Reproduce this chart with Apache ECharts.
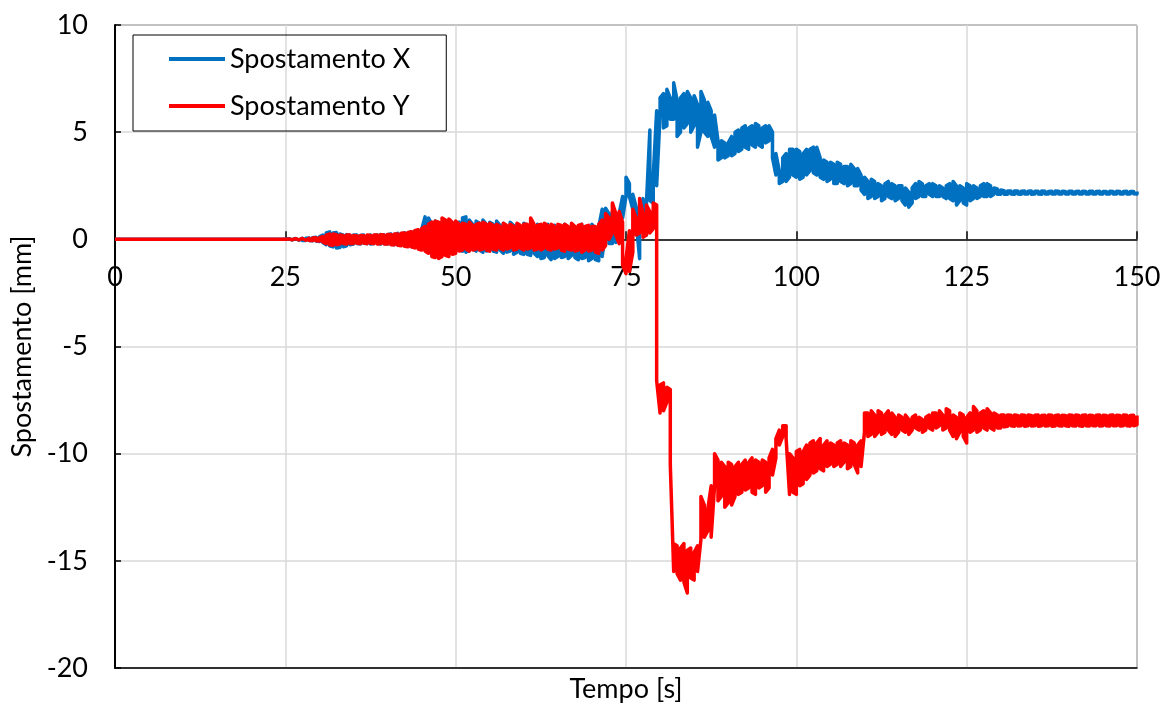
<!DOCTYPE html>
<html>
<head>
<meta charset="utf-8">
<script src="https://cdn.jsdelivr.net/npm/echarts@6/dist/echarts.min.js"></script>
<style>
html,body{margin:0;padding:0;background:#fff;}
#chart{width:1163px;height:707px;}
</style>
</head>
<body>
<div id="chart"></div>
<script>
// Leading flat samples, then a regular 0.5 s sampling grid from 25.5 s to 150 s.
// For each grid sample the signal is dense noise, so the upper and lower
// envelope of the trace are given.
const leadTimes = [0, 25];
const leadX = [0, 0];
const leadY = [0, 0];
const gridStart = 25.5;
const gridStep = 0.5;

// Spostamento X [mm] – upper envelope
const xHi = [
  0.03,0.03,0.04,0.04,0.05,0.05,0.06,0.08,0.1,0.12,
  0.2,0.3,0.35,0.3,0.32,0.25,0.2,0.22,0.18,0.2,
  0.2,0.18,0.2,0.15,0.2,0.18,0.2,0.22,0.2,0.22,
  0.25,0.22,0.28,0.25,0.3,0.3,0.35,0.38,0.4,0.45,
  1.05,1.0,0.7,0.85,0.75,0.8,0.7,0.85,0.75,0.7,
  0.8,1.0,1.05,0.9,0.7,0.85,0.75,0.9,0.7,0.8,
  0.7,0.85,0.65,0.75,0.6,0.8,0.65,0.7,0.6,0.75,
  0.65,0.75,0.6,0.7,0.55,0.65,0.7,0.6,0.65,0.55,
  0.6,0.7,0.55,0.65,0.5,0.6,0.7,0.55,0.6,0.7,
  0.5,0.6,1.4,1.45,1.2,1.3,0.9,1.2,2.0,2.9,
  2.6,2.1,1.5,1.0,1.9,1.7,5.1,3.0,6.0,6.6,
  6.8,7.0,6.6,7.3,6.5,6.6,6.8,6.9,6.6,6.7,
  6.3,6.9,6.5,6.4,6.0,5.8,4.6,4.6,4.5,4.5,
  4.8,5.0,5.1,5.2,5.3,5.2,5.3,5.4,5.3,5.2,
  5.3,5.3,5.0,4.0,3.2,3.8,4.0,4.2,4.2,4.2,
  4.1,4.0,4.2,4.2,4.3,4.3,3.8,3.7,3.6,3.6,
  3.5,3.6,3.5,3.4,3.4,3.5,3.3,3.3,3.0,2.9,
  2.7,2.8,2.7,2.6,2.5,2.6,2.7,2.6,2.5,2.5,
  2.5,2.4,2.2,2.4,2.6,2.7,2.6,2.5,2.6,2.6,
  2.5,2.5,2.4,2.5,2.6,2.7,2.5,2.5,2.4,2.6,
  2.5,2.5,2.4,2.5,2.6,2.6,2.5,2.4,2.35,2.3,
  2.27,2.26,2.25,2.25,2.26,2.24,2.25,2.24,2.25,2.24,
  2.24,2.25,2.24,2.23,2.24,2.25,2.24,2.24,2.23,2.24,
  2.24,2.23,2.24,2.24,2.23,2.24,2.24,2.23,2.24,2.23,
  2.23,2.24,2.23,2.24,2.23,2.23,2.24,2.23,2.23,2.23
];
// Spostamento X [mm] – lower envelope
const xLo = [
  -0.03,-0.03,-0.04,-0.04,-0.05,-0.05,-0.06,-0.07,-0.08,-0.1,
  -0.15,-0.25,-0.3,-0.35,-0.4,-0.38,-0.35,-0.3,-0.25,-0.22,
  -0.2,-0.22,-0.18,-0.2,-0.22,-0.2,-0.18,-0.22,-0.2,-0.22,
  -0.22,-0.25,-0.25,-0.28,-0.3,-0.32,-0.35,-0.35,-0.38,-0.4,
  -0.3,-0.2,-0.35,-0.3,-0.4,-0.35,-0.4,-0.35,-0.4,-0.45,
  -0.5,-0.55,-0.6,-0.5,-0.45,-0.55,-0.5,-0.6,-0.55,-0.5,
  -0.55,-0.6,-0.5,-0.65,-0.6,-0.55,-0.7,-0.6,-0.65,-0.7,
  -0.7,-0.75,-0.65,-0.8,-0.9,-0.85,-0.75,-0.95,-0.9,-0.8,
  -0.85,-0.8,-0.9,-0.75,-0.85,-0.95,-0.9,-0.85,-1.0,-0.9,
  -0.95,-1.0,-0.8,0.3,-0.2,-0.2,-0.15,0.2,1.0,2.0,
  2.0,1.4,0.8,-0.9,0.6,0.2,1.8,1.7,2.5,5.8,
  5.2,5.3,5.6,5.6,4.8,5.0,5.2,5.4,5.0,5.3,
  4.3,5.0,5.0,4.8,4.8,4.3,3.7,3.8,3.8,3.9,
  3.9,4.0,4.1,4.2,4.3,4.2,4.4,4.3,4.4,4.3,
  4.5,4.6,3.8,3.0,2.6,2.7,2.7,2.9,3.0,2.9,
  2.8,2.9,3.0,3.2,3.1,3.0,2.9,2.8,2.7,2.8,
  2.6,2.6,2.7,2.6,2.5,2.6,2.5,2.5,2.3,2.1,
  1.9,2.0,1.9,2.0,1.8,1.9,2.0,1.9,1.8,1.9,
  1.8,1.6,1.5,1.7,1.9,2.0,2.0,2.0,2.1,2.0,
  2.0,2.0,2.0,1.9,1.9,1.8,1.6,1.8,1.7,1.6,
  1.8,1.9,1.9,2.0,2.0,2.0,2.0,2.1,2.1,2.1,
  2.1,2.1,2.11,2.1,2.11,2.1,2.11,2.11,2.1,2.11,
  2.11,2.1,2.11,2.11,2.12,2.11,2.11,2.12,2.11,2.12,
  2.11,2.12,2.11,2.12,2.12,2.11,2.12,2.12,2.11,2.12,
  2.12,2.12,2.11,2.12,2.12,2.12,2.12,2.12,2.13,2.12
];

// Spostamento Y [mm] – upper envelope
const yHi = [
  0.02,0.02,0.03,0.03,0.04,0.04,0.05,0.06,0.07,0.08,
  0.12,0.2,0.25,0.25,0.22,0.2,0.18,0.2,0.2,0.18,
  0.17,0.18,0.17,0.2,0.18,0.2,0.2,0.22,0.2,0.22,
  0.22,0.25,0.25,0.28,0.3,0.32,0.35,0.4,0.45,0.5,
  0.6,0.7,0.8,0.85,0.8,1.0,0.9,0.95,0.8,0.85,
  0.7,0.75,0.7,0.8,0.65,0.7,0.75,0.8,0.7,0.75,
  0.65,0.7,0.6,0.75,0.65,0.7,0.6,0.75,0.65,0.7,
  0.7,1.0,0.7,0.65,0.7,0.75,0.65,0.7,0.6,0.7,
  0.65,0.7,0.6,0.75,0.6,0.65,0.7,0.6,0.65,0.6,
  0.6,0.7,0.9,1.2,1.0,1.7,1.2,1.3,0.8,-0.9,
  0.4,1.4,1.0,1.9,1.2,1.6,1.3,1.7,1.6,-6.8,
  -6.7,-6.9,-7.0,-14.2,-14.3,-14.4,-14.2,-14.5,-14.4,-14.6,
  -14.3,-12.0,-12.4,-12.6,-11.5,-10.0,-10.3,-10.4,-10.6,-10.4,
  -10.5,-10.6,-10.4,-10.5,-10.3,-10.4,-10.2,-10.3,-10.4,-10.3,
  -10.4,-10.2,-9.8,-9.3,-8.9,-8.7,-8.7,-10.0,-10.2,-9.9,
  -9.8,-9.9,-9.6,-9.5,-9.4,-9.5,-9.3,-9.6,-9.4,-9.5,
  -9.6,-9.5,-9.4,-9.5,-9.6,-9.4,-9.5,-9.6,-9.4,-8.1,
  -8.1,-8.0,-8.2,-8.0,-8.1,-8.2,-8.0,-8.1,-8.3,-8.2,
  -8.3,-8.2,-8.4,-8.3,-8.2,-8.3,-8.4,-8.3,-8.2,-8.1,
  -8.1,-8.0,-8.2,-7.9,-8.0,-8.2,-8.3,-8.1,-8.2,-8.3,
  -8.1,-7.8,-8.0,-8.1,-8.0,-7.9,-8.1,-8.1,-8.2,-8.2,
  -8.2,-8.2,-8.21,-8.2,-8.22,-8.2,-8.21,-8.2,-8.22,-8.21,
  -8.2,-8.22,-8.21,-8.2,-8.21,-8.22,-8.2,-8.21,-8.22,-8.2,
  -8.21,-8.2,-8.22,-8.21,-8.2,-8.21,-8.22,-8.21,-8.2,-8.21,
  -8.22,-8.21,-8.2,-8.21,-8.22,-8.2,-8.21,-8.22,-8.21,-8.22
];
// Spostamento Y [mm] – lower envelope
const yLo = [
  -0.02,-0.02,-0.03,-0.03,-0.04,-0.04,-0.05,-0.06,-0.07,-0.08,
  -0.12,-0.2,-0.25,-0.28,-0.25,-0.22,-0.2,-0.22,-0.2,-0.2,
  -0.18,-0.2,-0.17,-0.2,-0.18,-0.2,-0.22,-0.2,-0.22,-0.22,
  -0.25,-0.25,-0.28,-0.3,-0.32,-0.35,-0.35,-0.4,-0.45,-0.5,
  -0.55,-0.65,-0.8,-0.85,-0.9,-0.8,-0.75,-0.8,-0.7,-0.65,
  -0.55,-0.5,-0.45,-0.55,-0.5,-0.45,-0.5,-0.45,-0.5,-0.55,
  -0.45,-0.5,-0.4,-0.5,-0.45,-0.4,-0.5,-0.45,-0.4,-0.5,
  -0.45,-0.4,-0.5,-0.45,-0.5,-0.4,-0.45,-0.5,-0.45,-0.4,
  -0.5,-0.55,-0.45,-0.5,-0.55,-0.5,-0.6,-0.5,-0.55,-0.5,
  -0.6,-0.65,-0.5,-0.3,0.0,0.3,0.2,-0.2,-1.2,-1.6,
  -1.5,-0.6,0.2,0.3,0.1,0.2,0.3,0.5,-6.6,-8.1,
  -8.0,-7.6,-10.5,-15.5,-15.6,-15.9,-16.0,-16.5,-15.8,-15.9,
  -15.5,-14.0,-13.9,-13.6,-13.9,-11.5,-12.2,-12.0,-12.5,-12.3,
  -12.4,-12.0,-11.9,-11.8,-11.7,-11.6,-11.8,-11.9,-11.6,-11.5,
  -11.8,-11.6,-11.0,-10.2,-9.6,-9.2,-9.3,-11.9,-11.8,-11.9,
  -11.5,-11.4,-11.2,-11.0,-10.9,-10.8,-10.7,-10.8,-10.6,-10.5,
  -10.6,-10.5,-10.6,-10.4,-10.7,-10.6,-10.5,-10.9,-10.6,-9.0,
  -9.2,-9.1,-9.2,-9.0,-9.1,-9.0,-8.9,-9.1,-9.2,-9.0,
  -8.9,-9.0,-9.1,-8.9,-8.8,-8.9,-9.0,-8.9,-8.8,-8.9,
  -8.8,-8.7,-8.9,-8.8,-8.9,-9.2,-9.3,-9.0,-9.2,-9.5,
  -9.0,-8.9,-9.0,-8.9,-8.8,-8.9,-8.8,-8.9,-8.8,-8.8,
  -8.75,-8.72,-8.7,-8.72,-8.71,-8.7,-8.72,-8.7,-8.71,-8.7,
  -8.72,-8.7,-8.71,-8.7,-8.72,-8.71,-8.7,-8.71,-8.7,-8.72,
  -8.7,-8.71,-8.7,-8.72,-8.7,-8.71,-8.7,-8.7,-8.71,-8.7,
  -8.7,-8.71,-8.7,-8.7,-8.71,-8.7,-8.7,-8.71,-8.7,-8.65
];

const seriesNames = ['Spostamento X', 'Spostamento Y'];
const xTicks = {min: 0, max: 150, interval: 25};
const yTicks = {min: -20, max: 10, interval: 5};

// Build a polyline that sweeps the envelope: at each sample a vertical stroke
// from one envelope edge to the other, alternating direction.
function buildPairs(leadV, hi, lo) {
  const out = [];
  for (let i = 0; i < leadTimes.length; i++) out.push([leadTimes[i], leadV[i]]);
  for (let i = 0; i < hi.length; i++) {
    const t = gridStart + i * gridStep;
    if (i % 2 === 0) { out.push([t, hi[i]]); out.push([t, lo[i]]); }
    else { out.push([t, lo[i]]); out.push([t, hi[i]]); }
  }
  return out;
}

const W = 1163, H = 707;
const G = {left: 115, top: 25, right: 26, bottom: 39};
const plotH = H - G.top - G.bottom;
const zeroOffset = -plotH * (0 - yTicks.min) / (yTicks.max - yTicks.min);

const FONT = 'Lato, Carlito, "Noto Sans", sans-serif';
const chart = echarts.init(document.getElementById('chart'), null, {renderer: 'canvas'});
chart.setOption({
  animation: false,
  backgroundColor: '#fff',
  textStyle: {fontFamily: FONT},
  grid: {left: G.left, top: G.top, right: G.right, bottom: G.bottom, show: true, borderColor: '#000', borderWidth: 1, backgroundColor: 'transparent', outerBoundsMode: 'none', containLabel: false},
  legend: {
    orient: 'vertical',
    left: 133, top: 35,
    padding: [9, 36, 10, 36],
    borderColor: '#000', borderWidth: 1,
    icon: 'rect',
    itemWidth: 56, itemHeight: 4, itemGap: 17, itemTextGap: 4,
    textStyle: {fontSize: 27, color: '#000', fontFamily: FONT, lineHeight: 30},
    data: seriesNames
  },
  xAxis: [{
    type: 'value', min: xTicks.min, max: xTicks.max, interval: xTicks.interval, position: 'bottom',
    offset: zeroOffset,
    axisLine: {onZero: false, lineStyle: {color: '#000', width: 1.5}},
    axisTick: {show: true, inside: true, length: 8, lineStyle: {color: '#000', width: 1.5}},
    axisLabel: {fontSize: 27, color: '#000', margin: 24, fontFamily: FONT},
    splitLine: {show: true, lineStyle: {color: '#d9d9d9', width: 1.5}}
  }, {
    type: 'value', min: xTicks.min, max: xTicks.max, interval: xTicks.interval, position: 'bottom',
    name: 'Tempo [s]', nameLocation: 'middle', nameGap: 8,
    nameTextStyle: {fontSize: 27, color: '#000', fontFamily: FONT},
    axisLine: {onZero: false, lineStyle: {color: '#000', width: 1.5}},
    axisTick: {show: false}, axisLabel: {show: false}, splitLine: {show: false}
  }],
  yAxis: {
    type: 'value', min: yTicks.min, max: yTicks.max, interval: yTicks.interval,
    name: 'Spostamento [mm]', nameLocation: 'middle', nameGap: 73,
    nameTextStyle: {fontSize: 27, color: '#000', fontFamily: FONT},
    axisLine: {show: true, onZero: false, lineStyle: {color: '#000', width: 2}},
    axisTick: {show: true, inside: true, length: 6, lineStyle: {color: '#000', width: 1.5}},
    axisLabel: {fontSize: 27, color: '#000', margin: 27, fontFamily: FONT},
    splitLine: {show: true, lineStyle: {color: '#d9d9d9', width: 1.5}}
  },
  series: [{
    name: seriesNames[0], type: 'line', xAxisIndex: 0, symbol: 'none', showSymbol: false,
    color: '#0070C0', lineStyle: {color: '#0070C0', width: 3.5, join: 'round'}, data: buildPairs(leadX, xHi, xLo)
  }, {
    name: seriesNames[1], type: 'line', xAxisIndex: 0, symbol: 'none', showSymbol: false,
    color: '#FF0000', lineStyle: {color: '#FF0000', width: 3.5, join: 'round'}, data: buildPairs(leadY, yHi, yLo)
  }]
});
</script>
</body>
</html>
